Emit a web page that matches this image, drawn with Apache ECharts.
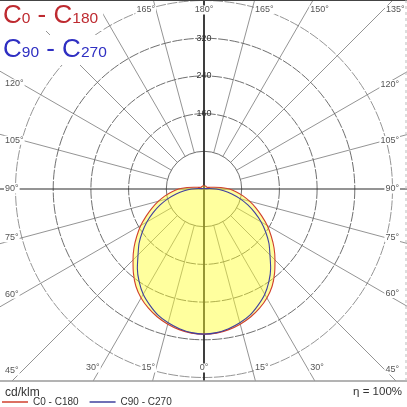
<!DOCTYPE html>
<html><head><meta charset="utf-8">
<script src="https://cdn.jsdelivr.net/npm/echarts@6/dist/echarts.min.js"></script>
<style>html,body{margin:0;padding:0;background:#fff}#c{width:407px;height:407px}</style>
</head><body><div id="c"></div>
<script>
// ---------------- data ----------------
const gammaAngles = [0,5,10,15,20,25,30,35,40,45,50,55,60,65,70,75,80,85,90,95,100,105,110,115,120,125,130,135,140,145,150,155,160,165,170,175,180];
const c0c180 =      [308,307,303,297,289,279,267,252,233,213,194,174,155,135,117,100,84,68,54,36,22,14,10,8,7,7,7,7,7,7,7,7,7,7,7,7,7];
const c90c270 =     [308,306,301,294,285,272,258,240,220,198,180,160,140,119,99,79,60,42,26,12,5,3,2,2,2,2,2,2,2,2,2,2,2,2,2,2,2];
const gridRadii = [80,160,240,320,400];
const labelledRadii = [160,240,320];
const spokeAngles = [0,15,30,45,60,75,90,105,120,135,150,165,180];
const seriesNames = ['C0 - C180','C90 - C270'];
const unitLabel = 'cd/klm';
const efficiencyLabel = 'η = 100%';

// ---------------- layout ----------------
const W = 407, CX = 204, CY = 189, PLOT_BOTTOM = 381, K = 188.5/400;
const X_MIN = -CX/K, X_MAX = (W-CX)/K, Y_MAX = CY/K, Y_MIN = -(PLOT_BOTTOM-CY)/K;
const FONT = '"Liberation Sans", Arial, sans-serif';
const RED = '#D0402E', BLUE = '#40409E';

function toXY(values){
  const pts = [];
  for (let i = gammaAngles.length-1; i >= 0; i--) {
    const a = gammaAngles[i]*Math.PI/180;
    pts.push([-values[i]*Math.sin(a), -values[i]*Math.cos(a)]);
  }
  for (let i = 1; i < gammaAngles.length; i++) {
    const a = gammaAngles[i]*Math.PI/180;
    pts.push([values[i]*Math.sin(a), -values[i]*Math.cos(a)]);
  }
  return pts;
}
const redXY = toXY(c0c180), blueXY = toXY(c90c270);

function exitT(cs, o, dx, dy){
  let t = Infinity;
  if (dx > 1e-9) t = Math.min(t, (cs.x+cs.width-o[0])/dx);
  if (dx < -1e-9) t = Math.min(t, (cs.x-o[0])/dx);
  if (dy > 1e-9) t = Math.min(t, (cs.y+cs.height-o[1])/dy);
  if (dy < -1e-9) t = Math.min(t, (cs.y-o[1])/dy);
  return t;
}
function spokes(){
  const out = [];
  spokeAngles.forEach(a => [-1,1].forEach(s => {
    if ((a === 0 || a === 180) && s === 1) return;
    const r = a*Math.PI/180;
    out.push({a, s, dx: s*Math.sin(r), dy: Math.cos(r)});
  }));
  return out;
}

function gridRender(params, api){
  const cs = params.coordSys, o = api.coord([0,0]), u = api.size([1,0])[0];
  const ch = [];
  gridRadii.forEach(r => ch.push({type:'circle', shape:{cx:o[0], cy:o[1], r:r*u},
    style:{fill:null, stroke: r === 400 ? '#7a7a7a' : '#4a4a4a', lineWidth:0.8, lineDash: r === 80 ? null : [10,1.5]}}));
  spokes().forEach(p => {
    const t = exitT(cs, o, p.dx, p.dy);
    const main = p.a % 90 === 0;
    const r0 = main ? 0 : 80*u;
    ch.push({type:'line', shape:{x1:o[0]+p.dx*r0, y1:o[1]+p.dy*r0, x2:o[0]+p.dx*t, y2:o[1]+p.dy*t},
      style:{stroke: main ? '#2a2a2a' : '#666', lineWidth: main ? (p.a === 90 ? 1.2 : 1.8) : 0.7}});
  });
  return {type:'group', children: ch};
}

function fillRender(params, api){
  const pts = redXY.map(p => api.coord(p));
  return {type:'polygon', shape:{points: pts, smooth: 0.2}, style:{fill:'rgba(255,255,40,0.45)', stroke:null}};
}

function labelRender(params, api){
  const cs = params.coordSys, o = api.coord([0,0]), u = api.size([1,0])[0];
  const L = cs.x, R = cs.x+cs.width, T = cs.y, B = cs.y+cs.height;
  const inL = L+30, inR = R-30, inT = T+20, inB = B-13;
  const ch = [];
  spokes().forEach(p => {
    let t = Infinity, edge = '';
    if (p.dx < -1e-9) { const tt = (inL-o[0])/p.dx; if (tt < t) { t = tt; edge = 'L'; } }
    if (p.dx > 1e-9)  { const tt = (inR-o[0])/p.dx; if (tt < t) { t = tt; edge = 'R'; } }
    if (p.dy < -1e-9) { const tt = (inT-o[1])/p.dy; if (tt < t) { t = tt; edge = 'T'; } }
    if (p.dy > 1e-9)  { const tt = (inB-o[1])/p.dy; if (tt < t) { t = tt; edge = 'B'; } }
    let x, y, align;
    if (edge === 'T' || edge === 'B') {
      y = edge === 'T' ? T+10 : B-13;
      x = o[0] + p.dx*((y-o[1])/p.dy);
      if (p.a === 0 || p.a === 180) align = 'center';
      else if (p.s < 0) align = 'right';
      else { align = 'left'; x += 2; }
    } else if (edge === 'L') {
      x = L+4; align = 'left';
      y = o[1] + p.dy*((L+22-o[0])/p.dx);
    } else {
      x = R-7; align = 'right';
      y = o[1] + p.dy*((R-22-o[0])/p.dx);
    }
    ch.push({type:'text', x, y, style:{text: p.a + '°', fill:'#555', fontSize:9, fontFamily: FONT,
      align, verticalAlign:'middle', backgroundColor:'#fff', padding:[0,1]}});
  });
  labelledRadii.forEach(r => ch.push({type:'text', x:o[0], y:o[1]-r*u,
    style:{text: String(r), fill:'#333', fontSize:9, fontFamily: FONT, align:'center', verticalAlign:'middle'}}));
  ch.push({type:'line', shape:{x1:L, y1:T+0.5, x2:R, y2:T+0.5}, style:{stroke:'#444', lineWidth:1}});
  ch.push({type:'line', shape:{x1:L, y1:B, x2:R, y2:B}, style:{stroke:'#9a9a9a', lineWidth:1.5}});
  ch.push({type:'line', shape:{x1:R-1, y1:T, x2:R-1, y2:B}, style:{stroke:'#bbb', lineWidth:1, lineDash:[3,3]}});
  return {type:'group', children: ch};
}

const chart = echarts.init(document.getElementById('c'), null, {renderer:'canvas'});
const rich = (color) => ({
  c:{fontSize:26, color, fontFamily:FONT, fontWeight:'normal', lineHeight:26, verticalAlign:'bottom'},
  s:{fontSize:15.5, color, fontFamily:FONT, fontWeight:'normal', lineHeight:15.5, padding:[0,0,2,0], verticalAlign:'bottom'}
});
chart.setOption({
  animation:false,
  backgroundColor:'#fff',
  title:[
    {left:1, top:1, padding:[2,5,2,2], backgroundColor:'#fff', text:'{c|C}{s|0}{c| - C}{s|180}',
      textStyle:{fontWeight:'normal', rich: rich('#BE2A30')}},
    {left:1, top:35, padding:[2,4,2,2], backgroundColor:'#fff', text:'{c|C}{s|90}{c| - C}{s|270}',
      textStyle:{fontWeight:'normal', rich: rich('#2F2FC2')}}
  ],
  legend:{left:2, top:397, padding:0, itemWidth:26, itemHeight:1.5, itemGap:11, icon:'rect',
    data: seriesNames, textStyle:{fontSize:10, color:'#333', fontFamily:FONT}},
  graphic:[
    {type:'text', left:5, top:387, style:{text:unitLabel, fontSize:12, fill:'#333', fontFamily:FONT}},
    {type:'text', right:5, top:386, style:{text:efficiencyLabel, fontSize:11.5, fill:'#333', fontFamily:FONT}}
  ],
  grid:{left:0, right:0, top:0, bottom:W-PLOT_BOTTOM},
  xAxis:{type:'value', min:X_MIN, max:X_MAX, show:false},
  yAxis:{type:'value', min:Y_MIN, max:Y_MAX, show:false},
  series:[
    {type:'custom', name:'grid', data:[[0,0]], renderItem:gridRender, clip:true, silent:true, z:1},
    {type:'custom', name:'fill', data:[[0,0]], renderItem:fillRender, clip:true, silent:true, z:2},
    {type:'line', name:seriesNames[0], data:redXY, showSymbol:false, smooth:0.2, color:RED, lineStyle:{width:1.1, color:RED}, z:4},
    {type:'line', name:seriesNames[1], data:blueXY, showSymbol:false, smooth:0.2, color:BLUE, lineStyle:{width:1.1, color:BLUE}, z:4},
    {type:'custom', name:'labels', data:[[0,0]], renderItem:labelRender, clip:false, silent:true, z:5}
  ]
});
</script></body></html>
